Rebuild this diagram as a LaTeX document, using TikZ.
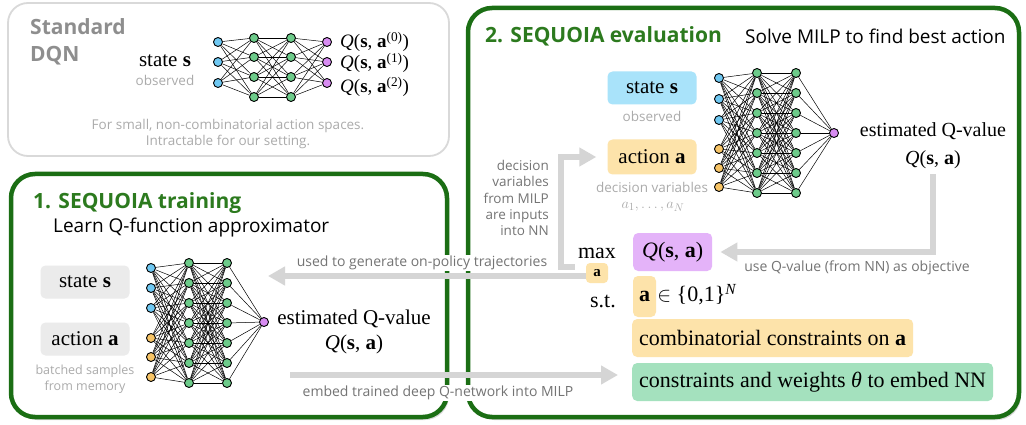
\documentclass[tikz,border=0pt]{standalone}
\usepackage{fontspec}
\setmainfont{Liberation Serif}
\newfontfamily\uisans{Open Sans}
\usepackage{xcolor}
\usepackage{tikz}
\usetikzlibrary{arrows.meta, positioning, shadows}

\definecolor{seqgreen}{HTML}{1B6E14}
\definecolor{titlegreen}{HTML}{2C7A1E}
\definecolor{dqngray}{HTML}{D9D9D9}
\definecolor{dqntitle}{HTML}{8E8E8E}
\definecolor{statebl}{HTML}{A9E3FA}
\definecolor{actor}{HTML}{FDE3AA}
\definecolor{qpurp}{HTML}{E4B3F9}
\definecolor{embgreen}{HTML}{A4E1BE}
\definecolor{softgray}{HTML}{EBEBEB}
\definecolor{arrowgray}{HTML}{D5D5D5}
\definecolor{notegray}{HTML}{ABABAB}
\definecolor{labelgray}{HTML}{747474}
\definecolor{nnblue}{HTML}{6FC8F2}
\definecolor{nnorange}{HTML}{F7C466}
\definecolor{nngreen}{HTML}{6DCB8A}
\definecolor{nnpurple}{HTML}{D88CF2}

\newcommand{\pxsize}[2]{\fontsize{#1}{#2}\selectfont}

\begin{document}
\begin{tikzpicture}[x=1pt, y=-1pt,
		% Define styles for the panels, boxes and network
		dqn_box/.style={
			draw=dqngray,
			line width=1.8pt,
			rounded corners=20pt,
			fill=white
		},
		panel_box/.style={
			draw=seqgreen,
			line width=4.5pt,
			rounded corners=24pt,
			fill=white,
			drop shadow={shadow xshift=2pt, shadow yshift=-3pt, opacity=0.3}
		},
		ui_title/.style={font=\uisans\bfseries\pxsize{21}{21}, text=titlegreen, inner sep=0pt},
		ui_text/.style={font=\uisans\pxsize{19}{19}, inner sep=0pt},
		note_text/.style={font=\uisans\pxsize{13.5}{16.5}, text=notegray, inner sep=0pt, align=center},
		arrow_label/.style={font=\uisans\pxsize{14}{16}, text=labelgray, fill=white, inner sep=1pt},
		tag_box/.style={
			rounded corners=5pt,
			minimum width=89pt,
			minimum height=33pt,
			font=\pxsize{21}{21}
		},
		milp_box/.style={
			rounded corners=5pt,
			minimum height=38pt,
			inner xsep=7pt,
			anchor=west,
			font=\pxsize{22}{22}
		},
		nn_unit/.style={circle, draw=black, line width=0.9pt, minimum size=9pt, inner sep=0pt},
		nn_link/.style={draw=black, line width=0.5pt},
		gray_arrow/.style={
			draw=arrowgray,
			line width=5.5pt,
			-{Triangle[length=17pt, width=18pt]}
		}
	]
	\useasboundingbox (0,0) rectangle (1026,425);

	% ----- Panels -----
	\node[dqn_box, minimum width=441pt, minimum height=153pt] (dqn_panel) at (228.5,79.5) {};
	\node[panel_box, minimum width=436pt, minimum height=243pt] (train_panel) at (229,295.5) {};
	\node[panel_box, minimum width=551pt, minimum height=409pt] (eval_panel) at (743.5,212.5) {};

	% ----- Standard DQN -----
	\node[anchor=west, align=left, font=\uisans\bfseries\pxsize{21}{27}, text=dqntitle, inner sep=0pt] (dqn_title) at (30,42) {Standard\\DQN};
	\node[font=\pxsize{21}{21}, inner sep=0pt] (dqn_state) at (165,61) {state \textbf{s}};
	\node[note_text] (dqn_obs) at (165,80) {observed};
	\node[note_text] (dqn_note) at (228,134) {For small, non-combinatorial action spaces.\\Intractable for our setting.};

	\foreach \y [count=\i] in {42,62,83} {
		\node[nn_unit, fill=nnblue] (dq_in\i) at (218,\y) {};
		\node[nn_unit, fill=nnpurple] (dq_out\i) at (327,\y) {};
	}
	\foreach \y [count=\i] in {38,57,77,97} {
		\node[nn_unit, fill=nngreen] (dq_ha\i) at (254,\y) {};
		\node[nn_unit, fill=nngreen] (dq_hb\i) at (291,\y) {};
	}
	\foreach \i in {1,...,3} \foreach \j in {1,...,4} {
		\draw[nn_link] (dq_in\i) -- (dq_ha\j);
		\draw[nn_link] (dq_hb\j) -- (dq_out\i);
	}
	\foreach \i in {1,...,4} \foreach \j in {1,...,4} \draw[nn_link] (dq_ha\i) -- (dq_hb\j);

	\node[anchor=west, font=\pxsize{19}{19}, inner sep=0pt] (dqn_q0) at (340,42) {\textit{Q}(\textbf{s}, \textbf{a}\textsuperscript{(0)})};
	\node[anchor=west, font=\pxsize{19}{19}, inner sep=0pt] (dqn_q1) at (340,63) {\textit{Q}(\textbf{s}, \textbf{a}\textsuperscript{(1)})};
	\node[anchor=west, font=\pxsize{19}{19}, inner sep=0pt] (dqn_q2) at (340,87) {\textit{Q}(\textbf{s}, \textbf{a}\textsuperscript{(2)})};

	% ----- 1. Training -----
	\node[ui_title, anchor=west] (train_title) at (33,203) {1. SEQUOIA training};
	\node[ui_text, anchor=west] (train_sub) at (53,228) {Learn Q-function approximator};
	\node[tag_box, fill=softgray] (train_state) at (85,282) {state \textbf{s}};
	\node[tag_box, fill=softgray] (train_action) at (85,339) {action \textbf{a}};
	\node[note_text, font=\uisans\pxsize{12.5}{16}] (train_note) at (85,379) {batched samples\\from memory};

	\foreach \y [count=\i] in {268,288,308} \node[nn_unit, fill=nnblue] (tr_in\i) at (151,\y) {};
	\foreach \y [count=\i from 4] in {338,357,377} \node[nn_unit, fill=nnorange] (tr_in\i) at (151,\y) {};
	\foreach \y [count=\i] in {263,283,303,323,343,363,383} {
		\node[nn_unit, fill=nngreen] (tr_ha\i) at (189,\y) {};
		\node[nn_unit, fill=nngreen] (tr_hb\i) at (227,\y) {};
	}
	\node[nn_unit, fill=nnpurple] (tr_out) at (264,322) {};
	\foreach \i in {1,...,6} \foreach \j in {1,...,7} \draw[nn_link] (tr_in\i) -- (tr_ha\j);
	\foreach \i in {1,...,7} \foreach \j in {1,...,7} \draw[nn_link] (tr_ha\i) -- (tr_hb\j);
	\foreach \i in {1,...,7} \draw[nn_link] (tr_hb\i) -- (tr_out);

	\node[font=\pxsize{21}{25}, align=center, inner sep=0pt] (train_qval) at (354,332) {estimated Q-value\\\textit{Q}(\textbf{s}, \textbf{a})};

	% ----- 2. Evaluation -----
	\node[ui_title, anchor=west] (eval_title) at (485,36) {2. SEQUOIA evaluation};
	\node[ui_text, anchor=west] (eval_sub) at (745,36) {Solve MILP to find best action};
	\node[tag_box, fill=statebl] (eval_state) at (652,88) {state \textbf{s}};
	\node[note_text] (eval_obs) at (652,116) {observed};
	\node[tag_box, fill=actor, minimum height=35pt] (eval_action) at (652,157) {action \textbf{a}};
	\node[note_text] (eval_dec) at (652,187) {decision variables};
	\node[note_text, font=\pxsize{15}{15}] (eval_vars) at (653,207) {$a_1, \ldots, a_N$};

	\foreach \y [count=\i] in {78,99,120} \node[nn_unit, fill=nnblue] (ev_in\i) at (719,\y) {};
	\foreach \y [count=\i from 4] in {149,168,187} \node[nn_unit, fill=nnorange] (ev_in\i) at (719,\y) {};
	\foreach \y [count=\i] in {73,93,113,133,153,173,193} {
		\node[nn_unit, fill=nngreen] (ev_ha\i) at (757,\y) {};
		\node[nn_unit, fill=nngreen] (ev_hb\i) at (796,\y) {};
	}
	\node[nn_unit, fill=nnpurple] (ev_out) at (834,133) {};
	\foreach \i in {1,...,6} \foreach \j in {1,...,7} \draw[nn_link] (ev_in\i) -- (ev_ha\j);
	\foreach \i in {1,...,7} \foreach \j in {1,...,7} \draw[nn_link] (ev_ha\i) -- (ev_hb\j);
	\foreach \i in {1,...,7} \draw[nn_link] (ev_hb\i) -- (ev_out);

	\node[font=\pxsize{20}{28}, align=center, inner sep=0pt] (eval_qval) at (933,146) {estimated Q-value\\\textit{Q}(\textbf{s}, \textbf{a})};

	% MILP
	\node[font=\pxsize{22}{22}, inner sep=0pt] (milp_max) at (597,253) {max};
	\node[fill=actor, rounded corners=4pt, minimum width=22pt, minimum height=20pt, inner sep=0pt, font=\pxsize{15}{15}] (max_a) at (597,273) {\textbf{a}};
	\node[font=\pxsize{22}{22}, inner sep=0pt] (milp_st) at (603,301) {s.t.};
	\node[milp_box, fill=qpurp, minimum width=79pt] (milp_obj) at (633,252) {\textit{Q}(\textbf{s}, \textbf{a})};
	\node[fill=actor, rounded corners=5pt, minimum width=23pt, minimum height=41pt, inner sep=0pt, font=\pxsize{22}{22}] (st_a) at (644.5,296.5) {\textbf{a}};
	\node[anchor=base west, inner sep=0pt, xshift=1pt, font=\pxsize{22}{22}] (st_dom) at (st_a.base east) {$\in$ \{0,1\}\textsuperscript{\textit{N}}};
	\node[milp_box, fill=actor] (comb_box) at (632,338) {combinatorial constraints on \textbf{a}};
	\node[milp_box, fill=embgreen] (nn_box) at (632,382) {constraints and weights \textit{θ} to embed NN};

	% ----- Arrows -----
	\coordinate (gen_tip) at (268,276);
	\coordinate (embed_start) at (290,375);
	\draw[gray_arrow] ([yshift=-3pt]max_a.west) -- (gen_tip);
	\draw[gray_arrow, shorten <=11pt] ([yshift=6pt]max_a.west) -- ++(-25,0) |- ([xshift=-11pt]eval_action.west);
	\draw[gray_arrow, shorten >=8pt] ([yshift=-5pt]eval_qval.south) |- (milp_obj.east);
	\draw[gray_arrow, shorten >=14pt] (embed_start) -- (embed_start -| nn_box.west);

	\node[arrow_label] (gen_label) at (422,263) {used to generate on-policy trajectories};
	\node[arrow_label] (embed_label) at (438,393) {embed trained deep Q-network into MILP};
	\node[arrow_label] (obj_label) at (857,268) {use Q-value (from NN) as objective};
	\node[arrow_label, anchor=east, align=right, fill=none, font=\uisans\pxsize{13.5}{16.3}] (dec_label) at (550,198) {decision\\variables\\from MILP\\are inputs\\into NN};

\end{tikzpicture}
\end{document}
